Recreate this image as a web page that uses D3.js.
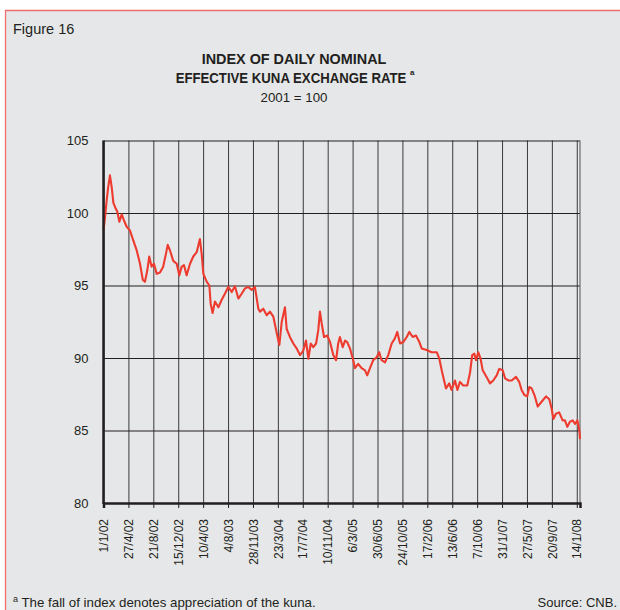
<!DOCTYPE html>
<html>
<head>
<meta charset="utf-8">
<script src="https://cdn.jsdelivr.net/npm/d3@7"></script>
<style>
body{margin:0;background:#fff;}
text{font-family:"Liberation Sans",Arial,sans-serif;fill:#231f20;}
</style>
</head>
<body>
<script>

// index values (2001 = 100)
var dates = [
  "2002-01-01","2002-01-08","2002-01-16","2002-01-23","2002-01-31","2002-02-08","2002-02-16","2002-02-24","2002-03-06","2002-03-16","2002-03-27","2002-04-06","2002-04-19","2002-05-04","2002-05-20","2002-06-05","2002-06-20","2002-07-03","2002-07-13","2002-07-24","2002-08-02","2002-08-13","2002-08-24","2002-09-06","2002-09-21","2002-10-06","2002-10-19","2002-10-27","2002-11-07","2002-11-22","2002-12-08","2002-12-20","2002-12-31",
  "2003-01-11","2003-01-23","2003-02-08","2003-02-23","2003-03-11","2003-03-26","2003-04-03","2003-04-11","2003-04-27","2003-05-09","2003-05-15","2003-05-24","2003-06-04","2003-06-20","2003-07-05","2003-07-21","2003-08-05","2003-08-21","2003-09-05","2003-09-21","2003-10-07","2003-10-22","2003-11-06","2003-11-22","2003-12-07","2003-12-23","2003-12-31",
  "2004-01-15","2004-01-31","2004-02-15","2004-03-02","2004-03-18","2004-03-30","2004-04-10","2004-04-25","2004-05-03","2004-05-18","2004-06-03","2004-06-19","2004-07-04","2004-07-19","2004-08-01","2004-08-12","2004-08-23","2004-09-04","2004-09-17","2004-09-27","2004-10-05","2004-10-13","2004-10-24","2004-11-08","2004-11-21","2004-12-06","2004-12-19","2004-12-29",
  "2005-01-06","2005-01-19","2005-01-30","2005-02-09","2005-02-22","2005-03-09","2005-03-17","2005-04-01","2005-04-17","2005-05-03","2005-05-13","2005-05-26","2005-06-10","2005-06-26","2005-07-08","2005-07-19","2005-08-04","2005-08-19","2005-09-04","2005-09-19","2005-09-30","2005-10-13","2005-10-28","2005-11-13","2005-11-25","2005-12-11","2005-12-26",
  "2006-01-11","2006-01-22","2006-02-14","2006-03-09","2006-04-02","2006-04-14","2006-04-25","2006-05-06","2006-05-15","2006-05-30","2006-06-10","2006-06-26","2006-07-07","2006-07-19","2006-08-03","2006-08-22","2006-09-04","2006-09-14","2006-09-24","2006-10-02","2006-10-12","2006-10-23","2006-11-02","2006-11-12","2006-11-23","2006-12-06","2006-12-21",
  "2007-01-06","2007-01-18","2007-02-03","2007-02-14","2007-03-01","2007-03-17","2007-04-06","2007-04-21","2007-05-02","2007-05-15","2007-05-28","2007-06-07","2007-06-18","2007-07-03","2007-07-16","2007-08-04","2007-08-24","2007-09-08","2007-09-19","2007-09-27","2007-10-09","2007-10-24","2007-11-09","2007-11-20","2007-12-01","2007-12-13","2007-12-26",
  "2008-01-06","2008-01-17","2008-01-26","2008-01-29"
];

var values = [
  98.8,99.7,100.9,101.8,102.6,101.8,100.7,100.4,100.1,99.4,99.9,99.5,99.05,98.8,98.1,97.4,96.5,95.4,95.25,96.05,97.0,96.3,96.5,95.8,95.9,96.3,97.2,97.8,97.4,96.7,96.5,95.7,96.3,
  96.4,95.7,96.5,97.0,97.3,98.2,97.2,95.8,95.25,95.0,93.75,93.1,93.9,93.5,94.0,94.45,94.9,94.55,94.95,94.1,94.45,94.8,94.9,94.7,94.9,93.4,93.2,
  93.4,92.95,93.2,92.85,91.7,90.9,92.5,93.5,92.0,91.45,91.0,90.65,90.2,90.5,91.2,89.95,91.0,90.75,91.0,91.9,93.2,92.4,91.45,91.55,91.1,90.2,89.85,91.0,
  91.45,90.75,91.2,91.1,90.65,89.85,89.3,89.6,89.3,89.15,88.8,89.3,89.85,90.05,90.4,89.85,89.7,90.2,91.0,91.35,91.8,91.0,91.1,91.45,91.8,91.45,91.55,
  91.1,90.65,90.55,90.4,90.4,89.95,89.15,88.45,87.9,88.25,87.8,88.45,87.8,88.35,88.1,88.1,89.0,90.2,90.3,89.85,90.4,89.95,89.15,88.9,88.6,88.25,88.45,
  88.8,89.25,89.15,88.6,88.45,88.45,88.7,88.35,87.8,87.45,87.35,88.0,87.9,87.35,86.65,87.0,87.35,87.15,86.5,85.8,86.15,86.25,85.7,85.7,85.25,85.6,85.7,
  85.45,85.7,85.0,84.4
];

var xTickLabels = ["1/1/02","27/4/02","21/8/02","15/12/02","10/4/03","4/8/03","28/11/03","23/3/04","17/7/04","10/11/04",
  "6/3/05","30/6/05","24/10/05","17/2/06","13/6/06","7/10/06","31/1/07","27/5/07","20/9/07","14/1/08"];

var yTicks = [80, 85, 90, 95, 100, 105];

var titleLines = ["INDEX OF DAILY NOMINAL", "EFFECTIVE KUNA EXCHANGE RATE", "2001 = 100"];


var graphSettings = {
  left : 103.5,
  right : 580,
  top : 140.5,
  bottom : 503,
  lineColor : "#ee3b2f",
  titleX : 294,
};

var parseDay = d3.timeParse("%Y-%m-%d");
var parseTick = d3.timeParse("%d/%m/%y");

var data = dates.map(function(d, i) { return {date: parseDay(d), value: values[i]}; });
var tickDates = xTickLabels.map(function(t) { return parseTick(t); });

var svg = d3.select("body").append("svg")
  .attr("width", 620)
  .attr("height", 610);

// panel background with the red frame on top and left
svg.append("rect").attr("x", 5).attr("y", 10).attr("width", 615).attr("height", 600).attr("fill", "#e6e7e8");
svg.append("path").attr("d", "M5.5,610V10.5H620").attr("fill", "none").attr("stroke", "#f26d6d").attr("stroke-width", 1.3);

svg.append("text").attr("x", 13).attr("y", 34).style("font-size", "14.5px").text("Figure 16");

// title is a condensed bold face in the original -> squeeze horizontally
var title = svg.append("g");
title.append("text")
  .attr("transform", "translate(" + graphSettings.titleX + ",64) scale(0.96,1)")
  .attr("text-anchor", "middle")
  .style("font-size", "15px").style("font-weight", "bold")
  .text(titleLines[0]);
title.append("text")
  .attr("transform", "translate(" + (graphSettings.titleX - 3) + ",83) scale(0.88,1)")
  .attr("text-anchor", "middle")
  .style("font-size", "15px").style("font-weight", "bold")
  .text(titleLines[1]);
title.append("text").attr("x", graphSettings.titleX + 116).attr("y", 75)
  .style("font-size", "8px").style("font-weight", "bold").text("a");
title.append("text").attr("x", graphSettings.titleX).attr("y", 102).attr("text-anchor", "middle")
  .style("font-size", "13.3px").text(titleLines[2]);


var x = d3.scaleTime()
  .domain([parseDay("2002-01-01"), parseDay("2008-01-29")])
  .range([graphSettings.left, graphSettings.right]);

var y = d3.scaleLinear()
  .domain([80, 105])
  .range([graphSettings.bottom, graphSettings.top]);

var plotW = graphSettings.right - graphSettings.left;
var plotH = graphSettings.bottom - graphSettings.top;

// vertical grid
var gxGrid = svg.append("g")
  .attr("transform", "translate(0," + graphSettings.bottom + ")")
  .call(d3.axisBottom(x).tickValues(tickDates).tickSize(-plotH).tickFormat(""));
gxGrid.select(".domain").remove();
gxGrid.selectAll("line").attr("stroke", "#3a3a3a").attr("stroke-width", 1);

// horizontal grid + y labels
var gy = svg.append("g")
  .attr("transform", "translate(" + graphSettings.left + ",0)")
  .call(d3.axisLeft(y).tickValues(yTicks).tickSize(-plotW).tickPadding(15));
gy.select(".domain").remove();
gy.selectAll("line").attr("stroke", "#231f20").attr("stroke-width", 1.1);
gy.selectAll("text").style("font-size", "13px").attr("fill", "#231f20");

// right border
svg.append("line")
  .attr("x1", graphSettings.right).attr("x2", graphSettings.right)
  .attr("y1", graphSettings.top).attr("y2", graphSettings.bottom)
  .attr("stroke", "#6d6d6d").attr("stroke-width", 1.2);

// the series
svg.append("path")
  .datum(data)
  .attr("fill", "none")
  .attr("stroke", graphSettings.lineColor)
  .attr("stroke-width", 2.1)
  .attr("stroke-linejoin", "round")
  .attr("d", d3.line().x(function(d) { return x(d.date); }).y(function(d) { return y(d.value); }));

// axes lines
svg.append("line")
  .attr("x1", graphSettings.left).attr("x2", graphSettings.left)
  .attr("y1", graphSettings.top).attr("y2", graphSettings.bottom + 1)
  .attr("stroke", "#231f20").attr("stroke-width", 2.5);

var gx = svg.append("g")
  .attr("transform", "translate(0," + graphSettings.bottom + ")")
  .call(d3.axisBottom(x).tickValues(tickDates).tickSize(5).tickFormat(function(d, i) { return xTickLabels[i]; }));
gx.select(".domain").attr("stroke-width", 2.5).attr("stroke", "#231f20");
gx.selectAll("line").attr("stroke", "#231f20");
gx.selectAll("text")
  .attr("transform", "rotate(-90)")
  .attr("x", -16)
  .attr("y", 0)
  .attr("dy", "0.35em")
  .attr("text-anchor", "end")
  .style("font-size", "12px")
  .attr("fill", "#231f20");

// footnote and source
var fn = svg.append("text").attr("x", 13).attr("y", 607).style("font-size", "13.3px");
fn.append("tspan").attr("dy", -5).style("font-size", "9px").text("a");
fn.append("tspan").attr("dy", 5).text(" The fall of index denotes appreciation of the kuna.");

svg.append("text").attr("x", 617).attr("y", 607).attr("text-anchor", "end").style("font-size", "13px").text("Source: CNB.");

</script>
</body>
</html>
